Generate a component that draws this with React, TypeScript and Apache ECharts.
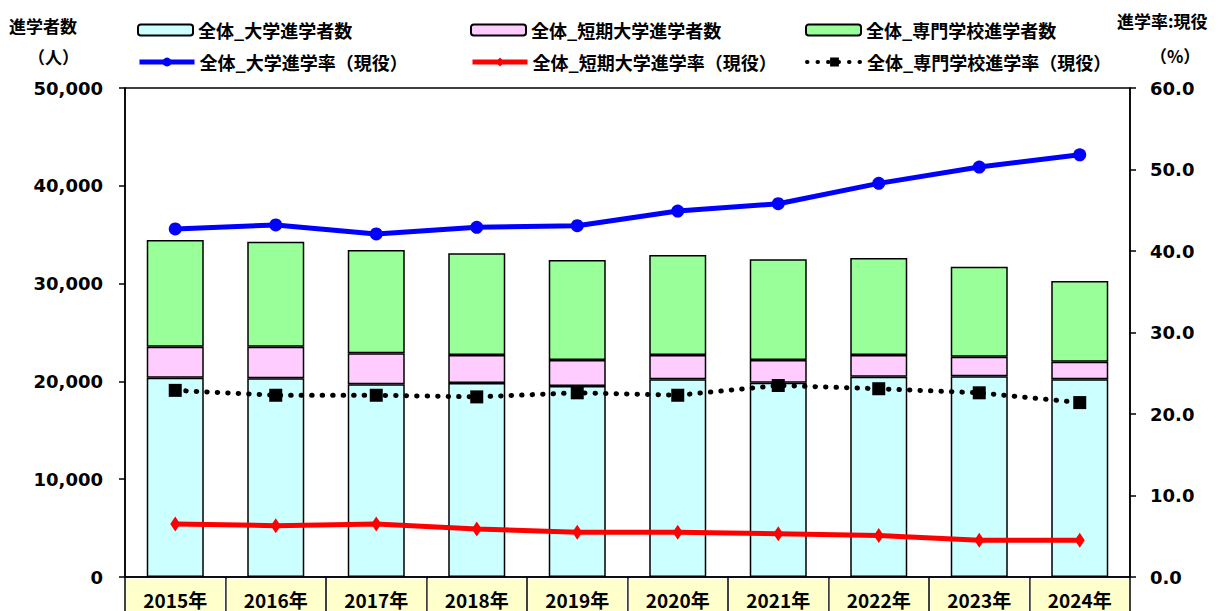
import React, { useEffect, useRef } from "react";
import * as echarts from "echarts";

const categories = ["2015年", "2016年", "2017年", "2018年", "2019年", "2020年", "2021年", "2022年", "2023年", "2024年"];
const univCount = [20380, 20320, 19700, 19840, 19530, 20210, 19870, 20480, 20520, 20210];
const juniorCount = [3170, 3230, 3170, 2860, 2660, 2490, 2320, 2220, 2010, 1800];
const vocationalCount = [10910, 10740, 10570, 10400, 10220, 10220, 10290, 9920, 9200, 8260];
const univRate = [42.7, 43.2, 42.1, 42.9, 43.1, 44.9, 45.8, 48.3, 50.3, 51.8];
const juniorRate = [6.5, 6.3, 6.5, 5.9, 5.5, 5.5, 5.3, 5.1, 4.5, 4.5];
const vocationalRate = [22.9, 22.3, 22.3, 22.1, 22.6, 22.3, 23.5, 23.1, 22.6, 21.4];

const leftTicks = { min: 0, max: 50000, interval: 10000 };
const rightTicks = { min: 0, max: 60, interval: 10 };

const names = [
  "全体_大学進学者数",
  "全体_短期大学進学者数",
  "全体_専門学校進学者数",
  "全体_大学進学率（現役）",
  "全体_短期大学進学率（現役）",
  "全体_専門学校進学率（現役）",
];

const JP = '"Noto Sans CJK JP", "Noto Sans", sans-serif';
const NUM = '"DejaVu Sans", Verdana, sans-serif';

export default function App() {
  const ref = useRef<HTMLDivElement>(null);
  useEffect(() => {
    if (!ref.current) return;
    const chart = echarts.init(ref.current, null, { renderer: "svg" });
    const legendPos = [
      [137, 21],
      [470, 21],
      [805, 21],
      [137, 53],
      [470, 53],
      [805, 53],
    ];
    const legendLineWidth = [undefined, undefined, undefined, 5, 5, 4];
    const legends = names.map((n, i) => ({
      data: [n],
      left: legendPos[i][0],
      top: legendPos[i][1],
      padding: 0,
      itemWidth: 55,
      itemHeight: 11,
      itemGap: 6,
      ...(legendLineWidth[i] ? { lineStyle: { width: legendLineWidth[i] } } : {}),
      textStyle: { fontFamily: JP, fontWeight: "bold", fontSize: 18, color: "#000" },
    }));
    const barStyle = (c: string) => ({ color: c, borderColor: "#000", borderWidth: 1.5 });
    chart.setOption({
      animation: false,
      backgroundColor: "#fff",
      grid: {
        left: 125,
        right: 88,
        top: 88,
        bottom: 34,
        outerBoundsMode: "none",
        containLabel: false,
        show: true,
        borderColor: "#000",
        borderWidth: 1.5,
      },
      legend: legends,
      graphic: [
        { type: "text", left: 9, top: 17, style: { text: "進学者数", font: `bold 17px ${JP}`, fill: "#000" } },
        { type: "text", left: 28, top: 48, style: { text: "（人）", font: `bold 17px ${JP}`, fill: "#000" } },
        { type: "text", left: 1117, top: 12, style: { text: "進学率:現役", font: `bold 17px ${JP}`, fill: "#000" } },
        { type: "text", left: 1150, top: 47, style: { text: "（%）", font: `bold 17px ${JP}`, fill: "#000" } },
      ],
      xAxis: {
        type: "category",
        data: categories,
        axisLine: { lineStyle: { color: "#000", width: 1.5 } },
        axisTick: { show: true, length: 40, lineStyle: { color: "#000", width: 1.5 } },
        axisLabel: {
          interval: 0,
          margin: 2,
          backgroundColor: "#FFFFCC",
          width: 98,
          height: 40,
          lineHeight: 40,
          align: "center",
          verticalAlign: "top",
          fontFamily: JP,
          fontWeight: "bold",
          fontSize: 19,
          color: "#000",
        },
      },
      yAxis: [
        {
          type: "value",
          ...leftTicks,
          splitLine: { show: false },
          axisLine: { show: true, lineStyle: { color: "#000", width: 1.5 } },
          axisTick: { show: true, length: 6, lineStyle: { color: "#000", width: 1.5 } },
          axisLabel: {
            margin: 22,
            fontFamily: NUM,
            fontWeight: "bold",
            fontSize: 18,
            color: "#000",
            formatter: (v: number) => v.toLocaleString("en-US"),
          },
        },
        {
          type: "value",
          ...rightTicks,
          splitLine: { show: false },
          axisLine: { show: true, lineStyle: { color: "#000", width: 1.5 } },
          axisTick: { show: true, length: 6, lineStyle: { color: "#000", width: 1.5 } },
          axisLabel: {
            margin: 20,
            fontFamily: NUM,
            fontWeight: "bold",
            fontSize: 18,
            color: "#000",
            formatter: (v: number) => v.toFixed(1),
          },
        },
      ],
      series: [
        { name: names[0], type: "bar", stack: "a", barWidth: 57, data: univCount, itemStyle: barStyle("#CCFFFF") },
        { name: names[1], type: "bar", stack: "a", barWidth: 57, data: juniorCount, itemStyle: barStyle("#FFCCFF") },
        { name: names[2], type: "bar", stack: "a", barWidth: 57, data: vocationalCount, itemStyle: barStyle("#99FF99") },
        {
          name: names[3],
          type: "line",
          yAxisIndex: 1,
          data: univRate,
          symbol: "circle",
          symbolSize: 13,
          itemStyle: { color: "#0000FF" },
          lineStyle: { color: "#0000FF", width: 5 },
        },
        {
          name: names[4],
          type: "line",
          yAxisIndex: 1,
          data: juniorRate,
          symbol: "diamond",
          symbolSize: [10, 15],
          itemStyle: { color: "#FF0000" },
          lineStyle: { color: "#FF0000", width: 5 },
        },
        {
          name: names[5],
          type: "line",
          yAxisIndex: 1,
          data: vocationalRate,
          symbol: "rect",
          symbolSize: 13,
          itemStyle: { color: "#000" },
          lineStyle: { color: "#000", width: 5, type: [0.5, 10], cap: "round" },
        },
      ],
    });
    return () => chart.dispose();
  }, []);
  return <div ref={ref} style={{ position: "fixed", left: 0, top: 0, width: 1218, height: 611 }} />;
}
